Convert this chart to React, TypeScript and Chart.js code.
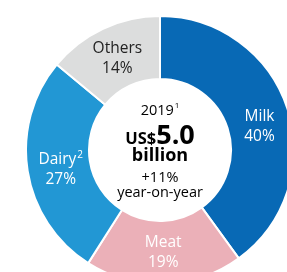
import React, { useEffect, useRef } from "react";
import { Chart, registerables } from "chart.js";

Chart.register(...registerables);

const categories = ["Milk", "Meat", "Dairy", "Others"];
const shares = [40, 19, 27, 14];
const superscripts = ["", "", "2", ""];
const colors = ["#0869b5", "#ebb0b8", "#2297d4", "#dcdddd"];
const labelColors = ["#ffffff", "#ffffff", "#ffffff", "#222222"];
const labelShiftX = [2, 0, 2, 1];
const labelShiftY = [8, 0, 4, 1];
const centerYear = "2019";
const centerYearNote = "1";
const centerPrefix = "US$";
const centerValue = "5.0";
const centerUnit = "billion";
const centerGrowth = "+11%";
const centerGrowthLabel = "year-on-year";

const FONT = "'Open Sans', 'Noto Sans', sans-serif";
const LF = 15.5;

const labelPlugin = {
  id: "donutLabels",
  afterDraw(chart: any) {
    const ctx = chart.ctx as CanvasRenderingContext2D;
    const meta = chart.getDatasetMeta(0);
    ctx.save();
    ctx.textAlign = "center";
    ctx.textBaseline = "middle";
    meta.data.forEach((arc: any, i: number) => {
      const { x, y, startAngle, endAngle, innerRadius, outerRadius } = arc.getProps(
        ["x", "y", "startAngle", "endAngle", "innerRadius", "outerRadius"],
        true
      );
      const mid = (startAngle + endAngle) / 2;
      const r = (innerRadius + outerRadius) / 2;
      const cx = x + Math.cos(mid) * r + labelShiftX[i];
      const cy = y + Math.sin(mid) * r + labelShiftY[i];
      ctx.fillStyle = labelColors[i];
      ctx.font = `${LF}px ${FONT}`;
      const name = categories[i];
      const sup = superscripts[i];
      if (sup) {
        const w = ctx.measureText(name).width;
        ctx.font = `10px ${FONT}`;
        const sw = ctx.measureText(sup).width;
        const total = w + sw + 1;
        ctx.font = `${LF}px ${FONT}`;
        ctx.textAlign = "left";
        ctx.fillText(name, cx - total / 2, cy - 10);
        ctx.font = `10px ${FONT}`;
        ctx.fillText(sup, cx - total / 2 + w + 1, cy - 15);
        ctx.textAlign = "center";
        ctx.font = `${LF}px ${FONT}`;
      } else {
        ctx.fillText(name, cx, cy - 10);
      }
      ctx.fillText(`${shares[i]}%`, cx, cy + 10);
    });

    // center text
    const arc0 = meta.data[0];
    const cx = arc0.x;
    const cy = arc0.y;
    ctx.fillStyle = "#000000";
    ctx.font = `14.5px ${FONT}`;
    const yw = ctx.measureText(centerYear).width;
    ctx.font = `8px ${FONT}`;
    const nw = ctx.measureText(centerYearNote).width;
    ctx.textAlign = "left";
    ctx.font = `14.5px ${FONT}`;
    ctx.fillText(centerYear, cx - (yw + nw + 1) / 2, cy - 39);
    ctx.font = `8px ${FONT}`;
    ctx.fillText(centerYearNote, cx - (yw + nw + 1) / 2 + yw + 1, cy - 44);
    ctx.font = `bold 16.5px ${FONT}`;
    const pw = ctx.measureText(centerPrefix).width;
    ctx.font = `bold 27px ${FONT}`;
    const vw = ctx.measureText(centerValue).width;
    const start = cx - (pw + vw) / 2;
    ctx.textBaseline = "alphabetic";
    ctx.font = `bold 16.5px ${FONT}`;
    ctx.fillText(centerPrefix, start, cy - 6);
    ctx.font = `bold 27px ${FONT}`;
    ctx.fillText(centerValue, start + pw, cy - 6);
    ctx.textAlign = "center";
    ctx.textBaseline = "middle";
    ctx.font = `bold 18px ${FONT}`;
    ctx.fillText(centerUnit, cx, cy + 6);
    ctx.font = `14.5px ${FONT}`;
    ctx.fillText(centerGrowth, cx, cy + 28);
    ctx.fillText(centerGrowthLabel, cx, cy + 43);
    ctx.restore();
  },
};

export default function App() {
  const ref = useRef<HTMLCanvasElement | null>(null);
  useEffect(() => {
    if (!ref.current) return;
    const chart = new Chart(ref.current, {
      type: "doughnut",
      data: {
        labels: categories,
        datasets: [
          {
            data: shares,
            backgroundColor: colors,
            borderColor: "#ffffff",
            borderWidth: 2,
            hoverOffset: 0,
          },
        ],
      },
      options: {
        animation: false,
        responsive: true,
        maintainAspectRatio: false,
        cutout: "53%",
        layout: { padding: 0 },
        plugins: {
          legend: { display: false },
          tooltip: { enabled: false },
        },
      },
      plugins: [labelPlugin],
    });
    return () => chart.destroy();
  }, []);
  return (
    <div style={{ position: "fixed", left: 0, top: 0, width: 287, height: 272, overflow: "hidden", background: "#fff" }}>
      <div style={{ position: "absolute", left: 25, top: 15, width: 270, height: 270 }}>
        <canvas ref={ref} />
      </div>
    </div>
  );
}
